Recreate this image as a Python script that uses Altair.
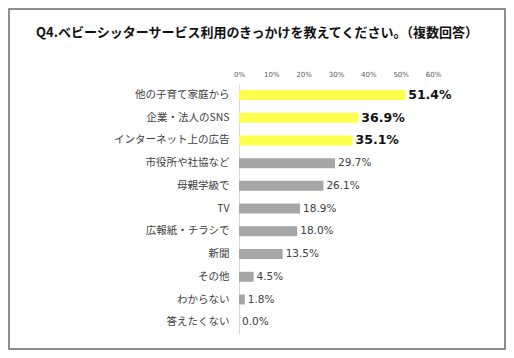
import altair as alt
import pandas as pd

categories = ["他の子育て家庭から", "企業・法人のSNS", "インターネット上の広告", "市役所や社協など",
              "母親学級で", "TV", "広報紙・チラシで", "新聞", "その他", "わからない", "答えたくない"]
values = [51.4, 36.9, 35.1, 29.7, 26.1, 18.9, 18.0, 13.5, 4.5, 1.8, 0.0]
highlight = [True, True, True, False, False, False, False, False, False, False, False]
x_ticks = [0, 10, 20, 30, 40, 50, 60]
title_text = "Q4.ベビーシッターサービス利用のきっかけを教えてください。（複数回答）"

df = pd.DataFrame({"cat": categories, "val": values, "hi": highlight})
df["label"] = [f"{v:.1f}%" for v in values]

JP = "Noto Sans CJK JP"
NUM = "DejaVu Sans"

W, H = 194, 250
PL, PT = 231, 75.6
TOTAL_W, TOTAL_H = 498, 342

y_enc = alt.Y("cat:N", sort=categories, title=None,
              scale=alt.Scale(paddingInner=0.56, paddingOuter=0.28),
              axis=alt.Axis(labelFont=JP, labelFontSize=10.5, labelColor="#404040",
                            ticks=False, labelPadding=10, domainColor="#d9d9d9",
                            domainWidth=1))
x_enc = alt.X("val:Q", title=None, scale=alt.Scale(domain=[0, 60], nice=False),
              axis=alt.Axis(orient="top", values=x_ticks, labelExpr="datum.value + '%'",
                            labelFont=NUM, labelFontSize=7, labelColor="#595959",
                            labelOverlap=False, labelFlush=False,
                            ticks=False, domain=False, grid=False, labelPadding=6))

base = alt.Chart(df).encode(x=x_enc, y=y_enc)

bars = base.mark_bar().encode(
    color=alt.condition("datum.hi", alt.value("#ffff4d"), alt.value("#a6a6a6")),
)

lab_hi = base.transform_filter("datum.hi").mark_text(
    align="left", baseline="middle", dx=3, font=NUM, fontSize=12.5, fontWeight="bold", color="#111111"
).encode(text="label:N")

lab_lo = base.transform_filter("!datum.hi").mark_text(
    align="left", baseline="middle", dx=3, font=NUM, fontSize=10.5, color="#404040"
).encode(text="label:N")

one = alt.Chart(pd.DataFrame({"t": [title_text]}))

frame = one.mark_rect(
    filled=False, stroke="#6b6b6b", strokeWidth=1.5
).encode(
    x=alt.value(-PL + 1), x2=alt.value(TOTAL_W - PL - 1),
    y=alt.value(-PT + 1), y2=alt.value(TOTAL_H - PT - 1),
)

title = one.mark_text(
    font=JP, fontSize=13, fontWeight="bold", color="#111111", align="center", baseline="middle"
).encode(text="t:N", x=alt.value(18), y=alt.value(-50.6))

chart = alt.layer(frame, title, bars, lab_hi, lab_lo).properties(
    width=W, height=H,
    background="white",
    autosize=alt.AutoSizeParams(type="none"),
    padding={"left": PL, "top": PT, "right": TOTAL_W - PL - W, "bottom": TOTAL_H - PT - H},
).configure_view(stroke=None)

chart.save("out.html", embed_options={"renderer": "svg", "actions": False})
